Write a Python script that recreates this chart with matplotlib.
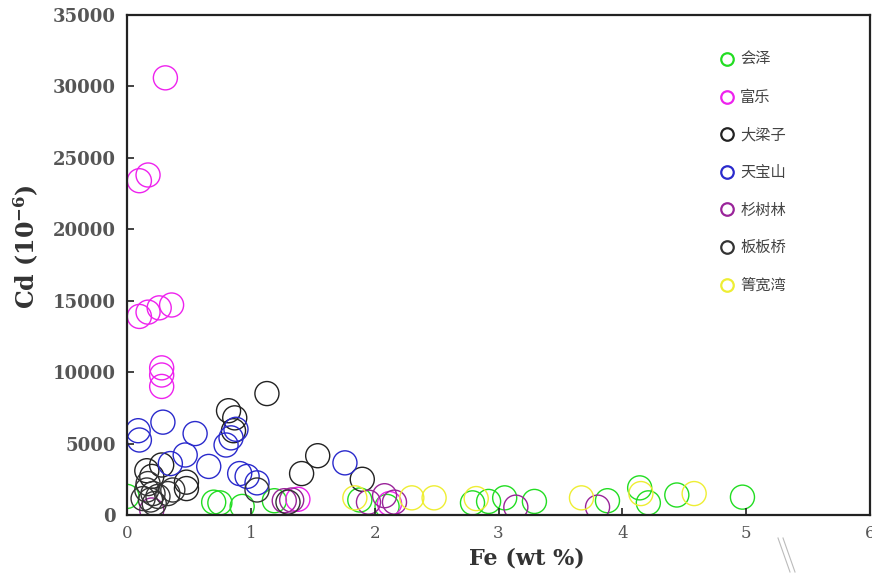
import numpy as np
import matplotlib
matplotlib.use("Agg")
import matplotlib.pyplot as plt
from matplotlib.lines import Line2D

plt.rcParams['mathtext.fontset'] = 'custom'
plt.rcParams['mathtext.rm'] = 'DejaVu Serif:bold'
plt.rcParams['mathtext.it'] = 'DejaVu Serif:bold'

# data (Fe wt %, Cd 10^-6)
huize_fe = [0.0, 0.70, 0.75, 0.93, 1.19, 1.88, 2.10, 2.79, 2.92, 3.05, 3.29, 3.88, 4.14, 4.21, 4.44, 4.97]
huize_cd = [1300, 900, 850, 600, 1000, 1050, 600, 850, 950, 1200, 950, 1000, 1900, 850, 1400, 1250]

fule_fe = [0.31, 0.10, 0.17, 0.10, 0.17, 0.26, 0.36, 0.28, 0.28, 0.28, 1.38, 2.12]
fule_cd = [30600, 23400, 23800, 13900, 14200, 14500, 14700, 10300, 9800, 9000, 1100, 800]

daliangzi_fe = [0.82, 0.87, 0.86, 1.13, 1.41, 1.54, 1.90, 0.16, 0.20, 0.28, 0.48, 0.48]
daliangzi_cd = [7300, 6800, 5900, 8500, 2900, 4150, 2500, 3100, 2700, 3500, 2300, 1850]

tianbaoshan_fe = [0.09, 0.10, 0.29, 0.55, 0.47, 0.66, 0.35, 0.80, 0.88, 0.91, 0.97, 1.05, 1.76, 0.84]
tianbaoshan_cd = [5900, 5250, 6500, 5700, 4200, 3400, 3600, 4900, 6000, 2900, 2700, 2250, 3650, 5400]

shanshulin_fe = [0.20, 1.27, 1.33, 1.95, 2.08, 2.16, 3.14, 3.80]
shanshulin_cd = [350, 1000, 1050, 900, 1350, 900, 550, 550]

banbanqiao_fe = [0.17, 0.16, 0.21, 0.19, 0.13, 0.33, 0.37, 0.22, 1.05, 1.30, 0.25]
banbanqiao_cd = [2200, 1750, 1500, 1050, 1150, 1500, 1750, 800, 1750, 900, 1300]

qingkuanwan_fe = [1.84, 2.30, 2.48, 2.82, 3.67, 4.15, 4.58]
qingkuanwan_cd = [1200, 1200, 1200, 1150, 1200, 1500, 1500]

groups = [
    ('会泽', huize_fe, huize_cd, '#22dd22'),
    ('富乐', fule_fe, fule_cd, '#ee22ee'),
    ('大梁子', daliangzi_fe, daliangzi_cd, '#222222'),
    ('天宝山', tianbaoshan_fe, tianbaoshan_cd, '#2a2acc'),
    ('杉树林', shanshulin_fe, shanshulin_cd, '#9a249a'),
    ('板板桥', banbanqiao_fe, banbanqiao_cd, '#333333'),
    ('箐宽湾', qingkuanwan_fe, qingkuanwan_cd, '#eeee33'),
]

fig = plt.figure(figsize=(8.72, 5.76), dpi=100)
ax = fig.add_axes([127/872, 1-515/576, 743/872, 500/576])

for name, fe, cd, c in groups:
    ax.scatter(fe, cd, s=300, facecolors='none', edgecolors=c, linewidths=1.0, label=name)

ax.set_xlim(0, 6)
ax.set_ylim(0, 35000)
ax.set_xticks(range(0, 7))
ax.set_yticks(range(0, 35001, 5000))
ax.tick_params(direction='in', length=5, width=1.2, colors='#222222',
               top=False, right=False, labelcolor='#555555')
for lab in ax.get_yticklabels():
    lab.set_fontfamily('DejaVu Serif')
    lab.set_fontweight('bold')
    lab.set_fontsize(13)
for lab in ax.get_xticklabels():
    lab.set_fontfamily('DejaVu Serif')
    lab.set_fontsize(12)
ax.tick_params(axis='x', pad=7)
ax.tick_params(axis='y', pad=8)
for sp in ax.spines.values():
    sp.set_linewidth(1.6)
    sp.set_color('#222222')

fig.text(26/872, 1-247/576, 'Cd (10$^{-6}$)', rotation=90, ha='center', va='center',
         fontsize=17, fontweight='bold', family='DejaVu Serif', color='#333333')
fig.text(527/872, 1-558/576, 'Fe (wt %)', ha='center', va='center',
         fontsize=16, fontweight='bold', family='DejaVu Serif', color='#333333')

handles = [Line2D([], [], linestyle='none', marker='o', markersize=9, markerfacecolor='none',
                  markeredgecolor=c, markeredgewidth=1.6) for _, _, _, c in groups]
labels = [g[0] for g in groups]
leg = ax.legend(handles, labels, loc='upper left', bbox_to_anchor=(0.779, 0.955),
                frameon=False, handletextpad=0.35, labelspacing=1.35, handlelength=1.0,
                prop={'family': ['Noto Sans CJK SC', 'DejaVu Sans'], 'size': 11})
for t in leg.get_texts():
    t.set_color('#444444')

# the two faint strokes at the bottom right of the source image
fig.add_artist(Line2D([778/872, 790/872], [1-538/576, 1-572/576], color='#bbbbbb', lw=0.8))
fig.add_artist(Line2D([783/872, 795/872], [1-538/576, 1-572/576], color='#bbbbbb', lw=0.8))

fig.savefig('out.png', dpi=100)
